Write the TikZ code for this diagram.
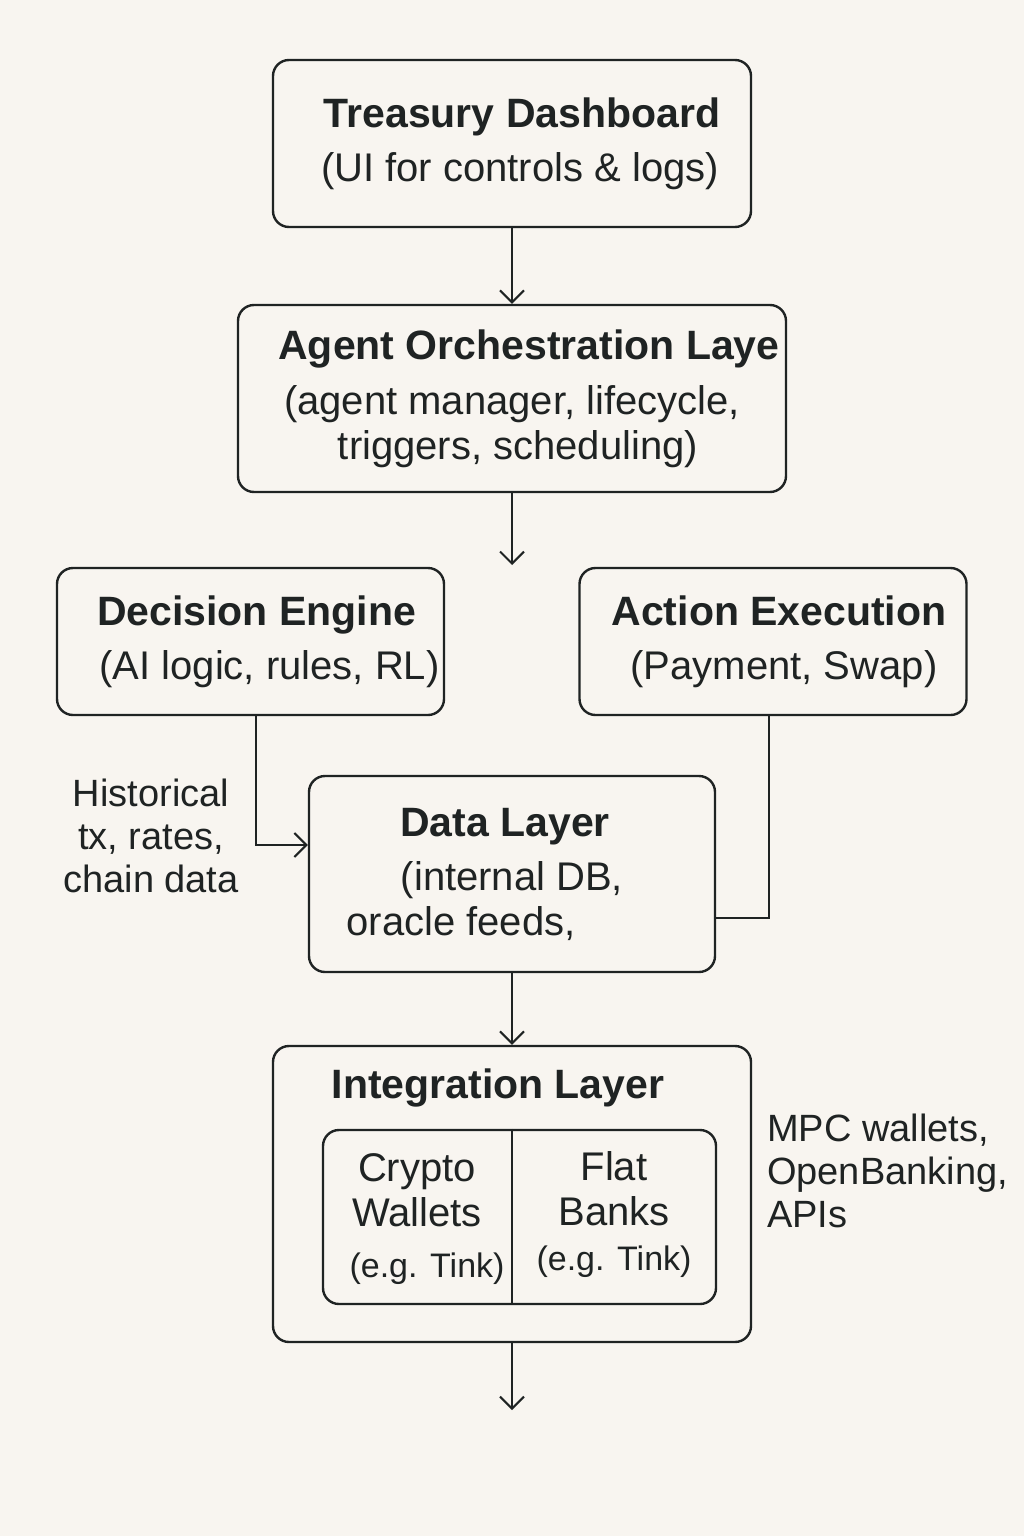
\documentclass[tikz,border=0pt]{standalone}
\usepackage{fontspec}
\setmainfont{Liberation Sans}
\usetikzlibrary{calc,arrows.meta}
\definecolor{paper}{HTML}{F8F5F0}
\definecolor{ink}{HTML}{1F2323}
\tikzset{
    % Box, arrow and free text styles for the layer chart
    layer box/.style={draw=ink,line width=1.2pt,rounded corners=8pt,align=center,inner sep=0pt}, flow/.style={draw=ink,line width=1pt,-{Straight Barb[length=6pt,width=12pt,line width=1pt]}},
    side text/.style={font=\fontsize{19}{21.5}\selectfont}
    }
\begin{document}
\begin{tikzpicture}[x=0.5pt,y=-0.5pt,text=ink,font=\fontsize{20}{22.5}\selectfont] % one unit is one pixel of the sheet
        \tikzstyle{title}=[font=\fontsize{20.5}{22.5}\selectfont\bfseries]
        \fill[paper] (0,0) rectangle (1024,1536);
        \useasboundingbox (0,0) rectangle (1024,1536);
        % The layers
        \node(1)[layer box,minimum width=239pt,minimum height=83.5pt] at (512,143.5) {\hspace*{10pt}\textbf{\fontsize{20.5}{22.5}\selectfont Treasury Dashboard}\\[4.5pt]\hspace*{8pt}(UI for controls \& logs)};
        \node(2)[layer box,minimum width=274pt,minimum height=93.5pt] at (512,398.5) {\hspace*{17pt}\textbf{\fontsize{20.5}{22.5}\selectfont Agent Orchestration Laye}\\[5pt](agent manager, lifecycle,\\\hspace*{6pt}triggers, scheduling)};
        \node(3)[layer box,minimum width=193.5pt,minimum height=73.5pt] at (250.5,641.5) {\hspace*{6pt}\textbf{\fontsize{20.5}{22.5}\selectfont Decision Engine}\\[4.5pt]\hspace*{19pt}(AI logic, rules, RL)};
        \node(4)[layer box,minimum width=193.5pt,minimum height=73.5pt] at (773,641.5) {\hspace*{6pt}\textbf{\fontsize{20.5}{22.5}\selectfont Action Execution}\\[4.5pt]\hspace*{11pt}(Payment, Swap)};
        \node(5)[layer box,minimum width=203pt,minimum height=98pt] at (512,874) {\textbf{\fontsize{20.5}{22.5}\selectfont Data Layer}\hspace*{7pt}\\[4.5pt](internal DB,\hspace*{24pt}\\oracle feeds,\hspace*{51pt}};
        \node(6)[layer box,minimum width=239pt,minimum height=148pt] at (512,1194) {};
        \node(10)[title] at (498,1088) {Integration Layer};
        % the split box inside the integration layer
        \node(7)[layer box,minimum width=196.5pt,minimum height=87pt] at (519.5,1217) {};
        \draw[draw=ink,line width=1.2pt] ($(7.north)+(-7.5,0)$) -- ($(7.south)+(-7.5,0)$);
        \node(8)[align=center] at (417,1219) {Crypto\\Wallets\\[3pt]\hspace*{10pt}{\fontsize{17}{20}\selectfont(e.g. Tink)}};
        \node(9)[align=center] at (614,1215) {Flat\\Banks\\{\fontsize{17}{20}\selectfont(e.g. Tink)}};
        % notes beside the boxes
        \node(11)[side text,align=center] at (151,836) {Historical\\tx, rates,\\chain data};
        \node(12)[side text,align=left,anchor=west] at (760,1171) {MPC wallets,\\OpenBanking,\\APIs};
        \coordinate(a) at (512,565);
        \coordinate(b) at (512,1410);
        % connectors
        \draw[flow] (1) -- (2);
        \draw[flow] (2) -- (a);
        \draw[flow] ([xshift=2.75pt]3.south) |- ([yshift=14.5pt]5.west);
        \draw[draw=ink,line width=1pt] ([xshift=-2pt]4.south) |- ([yshift=-22pt]5.east);
        \draw[flow] (5) -- (6);
        \draw[flow] (6) -- (b);
\end{tikzpicture}
\end{document}
